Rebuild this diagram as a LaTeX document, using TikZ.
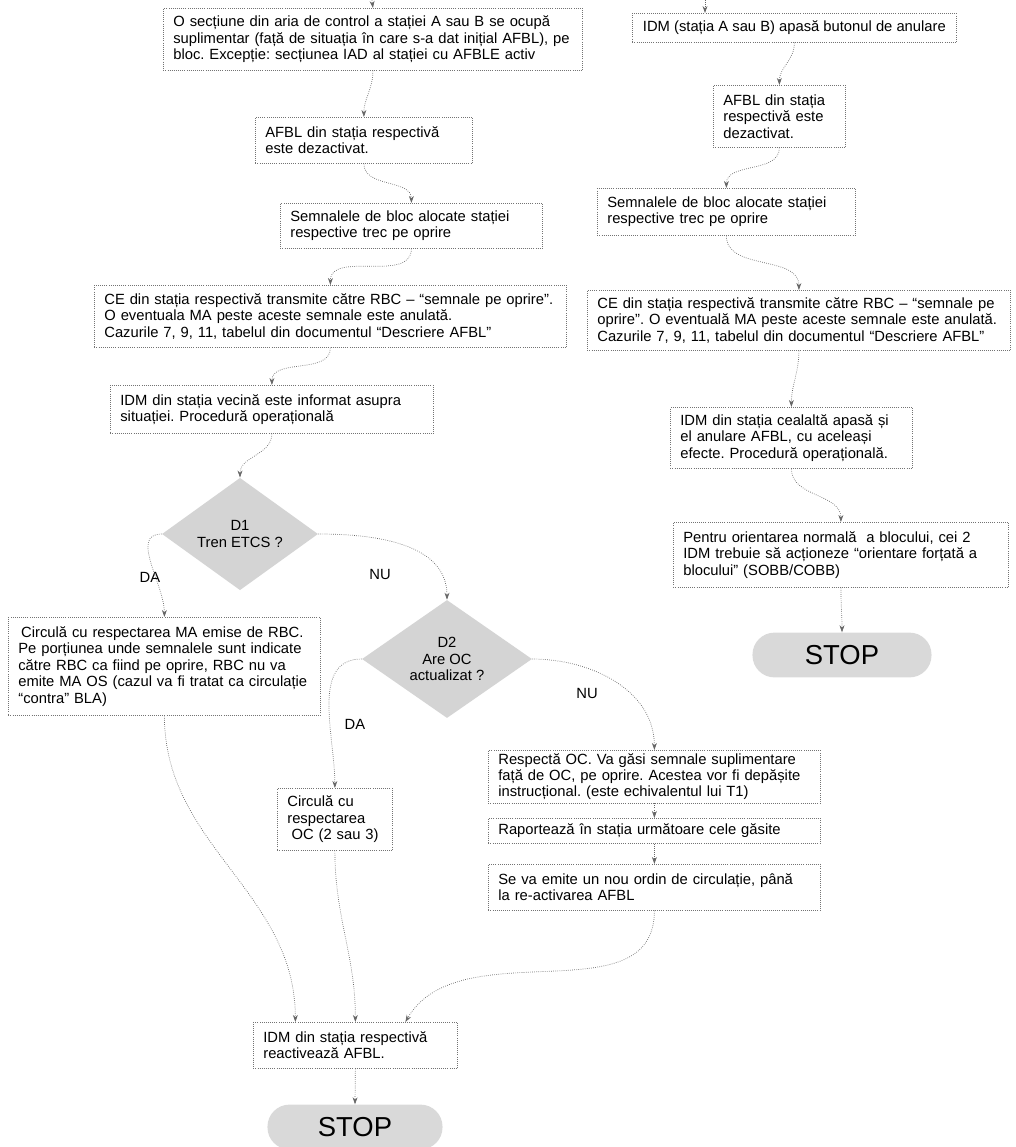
\documentclass[tikz,border=0pt]{standalone}
\usepackage{fontspec}
\setmainfont{Liberation Sans}
\usetikzlibrary{arrows.meta,calc,positioning,shapes.geometric}
\newcommand{\boxfont}{\fontsize{10.5}{11.7}\selectfont\frenchspacing\hyphenpenalty=10000}

\begin{document}
\begin{tikzpicture}[x=0.025cm, y=-0.025cm,
  every node/.style={font=\boxfont},
  box/.style={draw=black!55, densely dotted, line width=0.5pt, align=left,
    inner xsep=0.25cm, inner ysep=2pt, anchor=north west},
  diam/.style={diamond, fill=black!17, inner sep=0pt, align=center},
  stopbox/.style={fill=black!15, rounded corners=0.55cm, minimum height=1.12cm,
    font=\fontsize{19.5}{22}\selectfont},
  conn/.style={draw=black!60, densely dotted, line width=0.5pt,
    -{Stealth[length=5pt,width=3.5pt]}}]
\useasboundingbox (0,0) rectangle (1016,1147);

% left column
\node[box, text width=9.975cm, minimum height=1.55cm] (secA) at (163,8)
  {O secțiune din aria de control a stației A sau B se ocupă\\suplimentar (față de situația în care s-a dat inițial AFBL), pe\\bloc. Excepție: secțiunea IAD al stației cu AFBLE activ};
\node[box, text width=4.925cm, minimum height=1.15cm] (afblA) at (255,117)
  {AFBL din stația respectivă\\este dezactivat.};
\node[box, text width=6.05cm, minimum height=1.125cm] (semA) at (280,203)
  {Semnalele de bloc alocate stației\\respective trec pe oprire};
\node[box, text width=11.3cm, minimum height=1.55cm] (ceA) at (94,285)
  {CE din stația respectivă transmite către RBC – “semnale pe oprire”.\\O eventuala MA peste aceste semnale este anulată.\\Cazurile 7, 9, 11, tabelul din documentul “Descriere AFBL”};
\node[box, text width=7.575cm, minimum height=1.2cm] (vecA) at (110,385)
  {IDM din stația vecină este informat asupra\\situației. Procedură operațională};

\node[diam, minimum width=3.9cm, minimum height=1.9cm] (d1) at (240,534) {D1\\Tren ETCS ?};
\node[diam, minimum width=4.25cm, minimum height=2.42cm] (d2) at (447,659) {D2\\Are OC\\actualizat ?};

\node[box, text width=7.3cm, minimum height=2.45cm] (circMA) at (8,617)
  {\hspace*{2pt}Circulă cu respectarea MA emise de RBC.\\Pe porțiunea unde semnalele sunt indicate\\către RBC ca fiind pe oprire, RBC nu va\\emite MA OS (cazul va fi tratat ca circulație\\“contra” BLA)};
\node[box, text width=2.375cm, minimum height=1.55cm] (circOC) at (277,788)
  {Circulă cu\\respectarea\\\hspace*{3pt}OC (2 sau 3)};
\node[box, text width=7.8cm, minimum height=1.3cm] (respOC) at (488,750)
  {Respectă OC. Va găsi semnale suplimentare\\față de OC, pe oprire. Acestea vor fi depășite\\instrucțional. (este echivalentul lui T1)};
\node[box, text width=7.8cm, minimum height=0.625cm] (raport) at (488,818)
  {Raportează în stația următoare cele găsite};
\node[box, text width=7.8cm, minimum height=1.15cm] (ordin) at (488,864)
  {Se va emite un nou ordin de circulație, până\\la re-activarea AFBL};
\node[box, text width=4.6cm, minimum height=1.15cm] (reactiv) at (253,1022)
  {IDM din stația respectivă\\reactivează AFBL.};
\node[stopbox, minimum width=4.375cm] (stopA) at (355,1127) {STOP};

% right column
\node[box, minimum width=8.1cm, minimum height=0.725cm] (idmB) at (632,13)
  {IDM (stația A sau B) apasă butonul de anulare};
\node[box, text width=2.8cm, minimum height=1.55cm] (afblB) at (713,85)
  {AFBL din stația\\respectivă este\\dezactivat.};
\node[box, text width=5.95cm, minimum height=1.175cm] (semB) at (597,188)
  {Semnalele de bloc alocate stației\\respective trec pe oprire};
\node[box, text width=10.075cm, minimum height=1.5cm] (ceB) at (587,290)
  {CE din stația respectivă transmite către RBC – “semnale pe\\oprire”. O eventuală MA peste aceste semnale este anulată.\\Cazurile 7, 9, 11, tabelul din documentul “Descriere AFBL”};
\node[box, text width=5.55cm, minimum height=1.525cm] (cealB) at (670,407)
  {IDM din stația cealaltă apasă și\\el anulare AFBL, cu aceleași\\efecte. Procedură operațională.};
\node[box, text width=7.875cm, minimum height=1.625cm] (orientB) at (673,522)
  {Pentru orientarea normală \ a blocului, cei 2\\IDM trebuie să acționeze “orientare forțată a\\blocului” (SOBB/COBB)};
\node[stopbox, minimum width=4.475cm] (stopB) at (842,655) {STOP};

% branch labels
\node (da1) at (150,577) {DA};
\node (nu1) at (380,574) {NU};
\node (da2) at (355,724) {DA};
\node (nu2) at (587,693) {NU};

\coordinate (inA) at (372,0);
\coordinate (inB) at (705,0);

\draw[conn] (inA) -- (secA.north);
\draw[conn] (secA.south) to[out=-90,in=90] (afblA.north);
\draw[conn] (afblA.south) to[out=-90,in=90] (semA.north);
\draw[conn] (semA.south) to[out=-90,in=90] (ceA.north);
\draw[conn] (ceA.south) to[out=-90,in=90] (vecA.north);
\draw[conn] (vecA.south) to[out=-90,in=90] (d1.north);
\draw[conn] (d1.west) to[out=180,in=90] (circMA.north);
\draw[conn] (d1.east) to[out=0,in=90] (d2.north);
\draw[conn] (d2.west) to[out=180,in=90] (circOC.north);
\draw[conn] (d2.east) to[out=0,in=90] (respOC.north);
\draw[conn] (respOC.south) -- (raport.north);
\draw[conn] (raport.south) -- (ordin.north);
\draw[conn] (circMA.south) to[out=-90,in=90] ($(reactiv.north)+(-60,0)$);
\draw[conn] (circOC.south) to[out=-90,in=90] (reactiv.north);
\draw[conn] (ordin.south) to[out=-90,in=60] ($(reactiv.north)+(50,0)$);
\draw[conn] (reactiv.south) -- (stopA.north);

\draw[conn] (inB) -- (idmB.north -| inB);
\draw[conn] (idmB.south) to[out=-90,in=90] (afblB.north);
\draw[conn] (afblB.south) to[out=-90,in=90] (semB.north);
\draw[conn] (semB.south) to[out=-90,in=90] (ceB.north);
\draw[conn] (ceB.south) to[out=-90,in=90] (cealB.north);
\draw[conn] (cealB.south) to[out=-90,in=90] (orientB.north);
\draw[conn] (orientB.south) to[out=-90,in=90] (stopB.north);
\end{tikzpicture}
\end{document}
